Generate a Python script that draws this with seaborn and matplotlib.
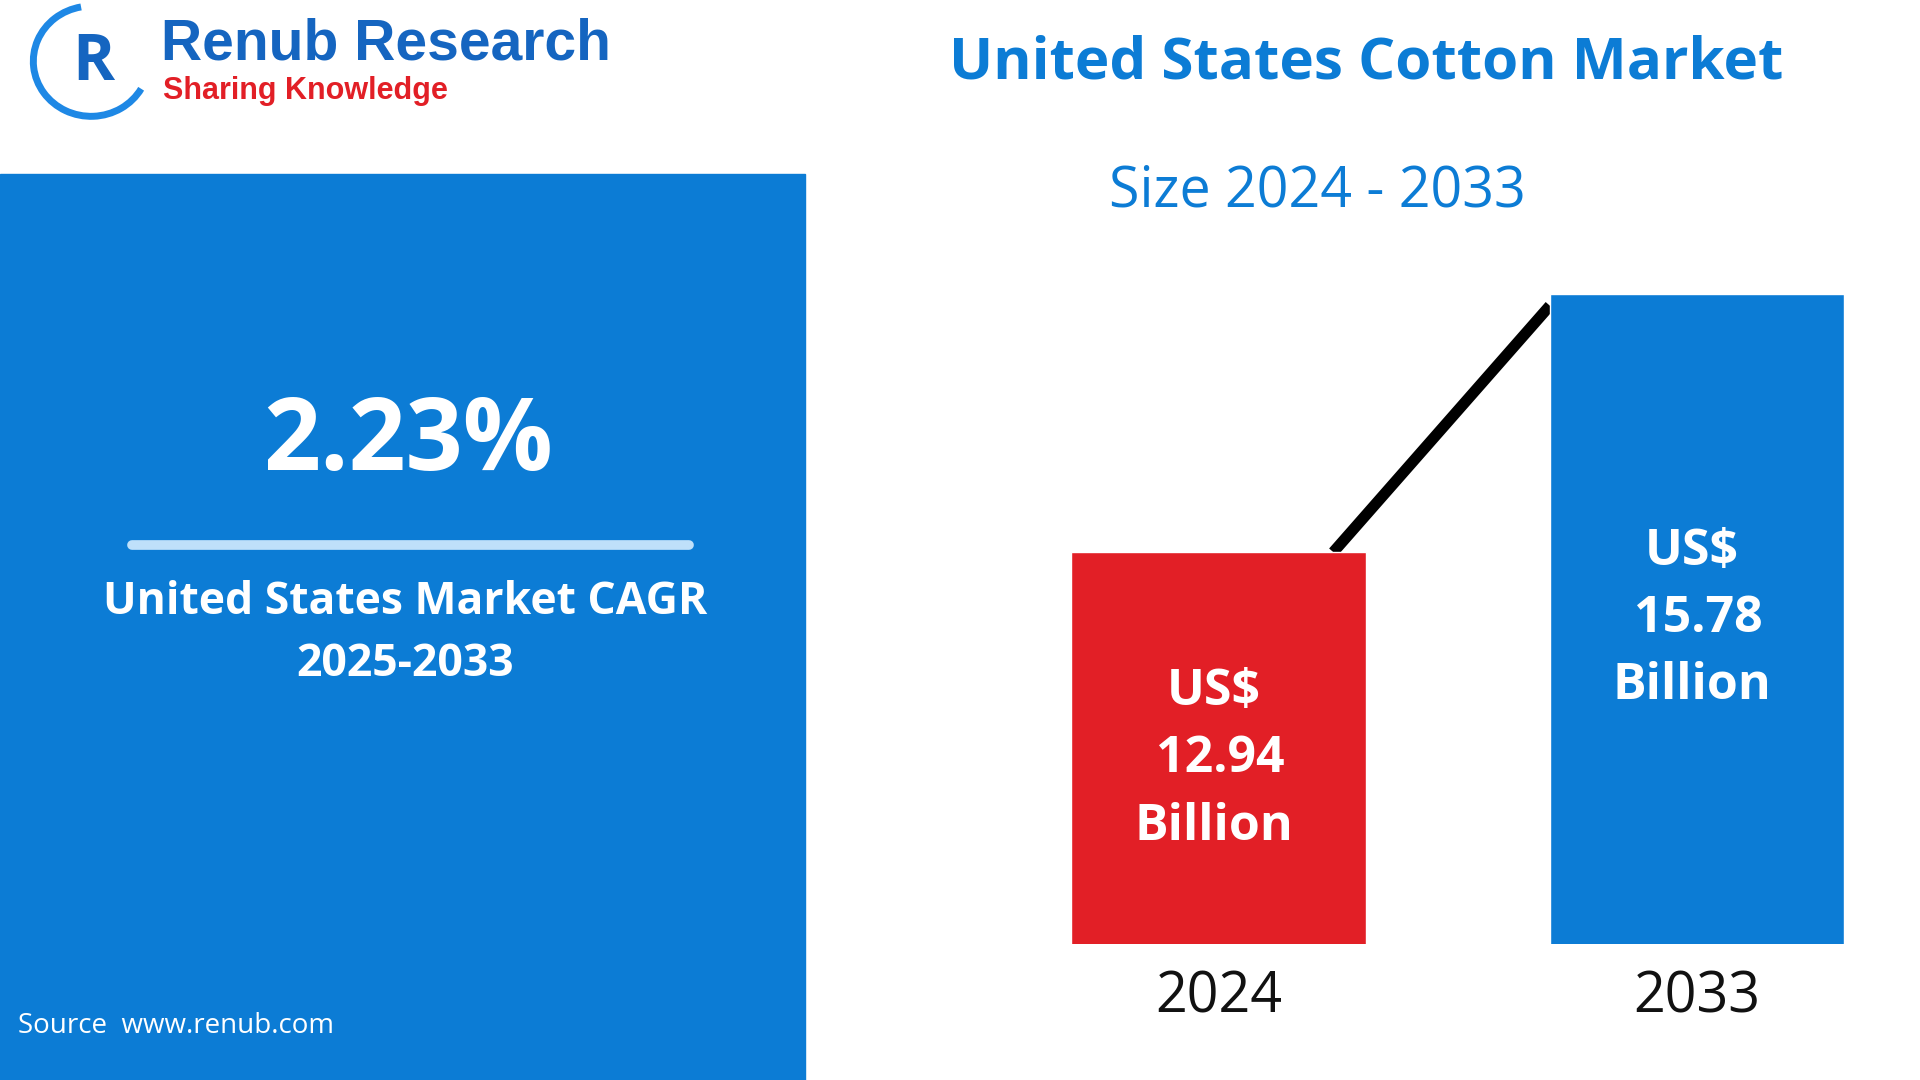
import matplotlib
matplotlib.use("Agg")
import matplotlib.pyplot as plt
import seaborn as sns
import pandas as pd
from matplotlib.patches import Rectangle, Arc

years = ["2024", "2033"]
values = [12.94, 15.78]
bar_colors = ["#E21F26", "#0C7CD5"]
value_labels = ["US$\n 12.94\nBillion", "US$\n 15.78\nBillion"]
cagr = "2.23%"

sns.set_theme(style="white")
plt.rcParams['font.family'] = ['Open Sans', 'DejaVu Sans']

W, H = 1570, 882
fig = plt.figure(figsize=(19.2, 10.8), dpi=100)
fig.patch.set_facecolor("white")
BLUE = "#0C7CD5"

def fx(x): return x / W
def fy(y): return 1 - y / H

# left panel
fig.patches.append(Rectangle((0, 0), fx(658), fy(142), transform=fig.transFigure, color=BLUE, zorder=0))
fig.text(fx(334), fy(362), cagr, color="white", fontsize=72, fontweight="bold", ha="center", va="center")
fig.lines.append(plt.Line2D([fx(108), fx(563)], [fy(445), fy(445)], transform=fig.transFigure, color="#BFE0FA", lw=7))
fig.text(fx(331), fy(517), "United States Market CAGR\n2025-2033", color="white", fontsize=32, fontweight="bold",
         ha="center", va="center", linespacing=1.5)
fig.text(fx(15), fy(838), "Source  www.renub.com", color="white", fontsize=20, ha="left", va="center")

# logo
fig.text(fx(132), fy(36), "Renub Research", color="#1565C0", fontsize=41, fontweight="bold", ha="left", va="center",
         family=["Liberation Sans", "DejaVu Sans"])
fig.text(fx(133), fy(74), "Sharing Knowledge", color="#E21F26", fontsize=22, fontweight="bold", ha="left", va="center",
         family=["Liberation Sans", "DejaVu Sans"])
lax = fig.add_axes([fx(22), fy(100), fx(105), fy(0) - fy(100)])
lax.set_xlim(0, 1); lax.set_ylim(0, 1); lax.axis("off")
lax.add_patch(Arc((0.5, 0.5), 0.9, 0.9, theta1=100, theta2=330, color="#1E88E5", lw=5))
lax.text(0.52, 0.48, "R", color="#1565C0", fontsize=46, ha="center", va="center", fontweight="bold")

# titles
fig.text(fx(1117), fy(52), "United States Cotton Market", color=BLUE, fontsize=42, fontweight="bold", ha="center", va="center")
fig.text(fx(1077), fy(157), "Size 2024 - 2033", color=BLUE, fontsize=40, ha="center", va="center")

# bar chart
ax = fig.add_axes([fx(876), fy(771), fx(1508) - fx(876), fy(240) - fy(771)])
df = pd.DataFrame({"year": years, "value": values})
sns.barplot(data=df, x="year", y="value", hue="year", palette=bar_colors, width=0.615,
            legend=False, ax=ax, saturation=1)
ax.set_xlim(-0.3075, 1.3075)
ax.set_ylim(8.63, 15.78)
ax.plot([0.24, 0.6925], [values[0], values[1] - 0.13], color="black", lw=8, zorder=0, solid_capstyle="butt")
label_frac = [0.471, 0.5]
for i, lbl in enumerate(value_labels):
    ax.text(i - 0.01, 8.63 + (values[i] - 8.63) * label_frac[i], lbl, color="white", fontsize=36,
            fontweight="bold", ha="center", va="center", linespacing=1.45)
for s in ax.spines.values():
    s.set_visible(False)
ax.set_xlabel(""); ax.set_ylabel(""); ax.set_yticks([])
ax.tick_params(axis="x", labelsize=40, colors="#111111", pad=18, length=0)
ax.set_facecolor("none")

fig.savefig("out.png", dpi=100)
